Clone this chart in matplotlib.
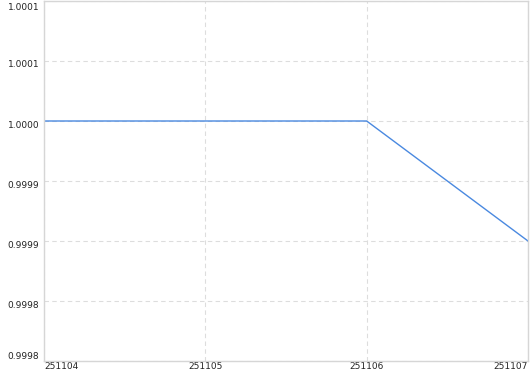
import matplotlib
matplotlib.use("Agg")
import matplotlib.pyplot as plt
import matplotlib.transforms as mtransforms

# data
x_vals = [251104, 251105, 251106, 251107]
y_vals = [1.0000, 1.0000, 1.0000, 0.9999]
x_labels = ['251104', '251105', '251106', '251107']
y_ticks = [0.9998, 0.99985, 0.9999, 0.99995, 1.0000, 1.00005, 1.0001]
y_labels = ['0.9998', '0.9998', '0.9999', '0.9999', '1.0000', '1.0001', '1.0001']

fig = plt.figure(figsize=(5.3, 3.74), dpi=100)
ax = fig.add_axes([44 / 530, 13 / 374, 484 / 530, 360 / 374])

ax.plot(x_vals, y_vals, color='#4a89e0', linewidth=1.0)

ax.set_xlim(x_vals[0], x_vals[-1])
ax.set_ylim(0.9998, 1.0001)
ax.set_xticks(x_vals)
ax.set_xticklabels(x_labels)
ax.set_yticks(y_ticks)
ax.set_yticklabels(y_labels)

ax.grid(True, color='#dddddd', linestyle=(0, (4, 3)), linewidth=0.8)
for side in ['left', 'bottom', 'right', 'top']:
    ax.spines[side].set_color('#d6d6d6')
    ax.spines[side].set_linewidth(1.0)

ax.tick_params(axis='both', length=0, labelsize=6.5, colors='#222222')
ax.tick_params(axis='x', pad=1.0)
ax.tick_params(axis='y', pad=3.5)

labs = ax.get_xticklabels()
labs[0].set_horizontalalignment('left')
labs[-1].set_horizontalalignment('right')

# labels sit a little below their grid line, end ones pulled inside
ylabs = ax.get_yticklabels()
for i, lab in enumerate(ylabs):
    if i == 0:
        dy = 5.5
    elif i == len(ylabs) - 1:
        dy = -5.5
    else:
        dy = -3
    lab.set_transform(lab.get_transform() +
                      mtransforms.ScaledTranslation(0, dy / 100, fig.dpi_scale_trans))

fig.savefig('out.png', dpi=100)
